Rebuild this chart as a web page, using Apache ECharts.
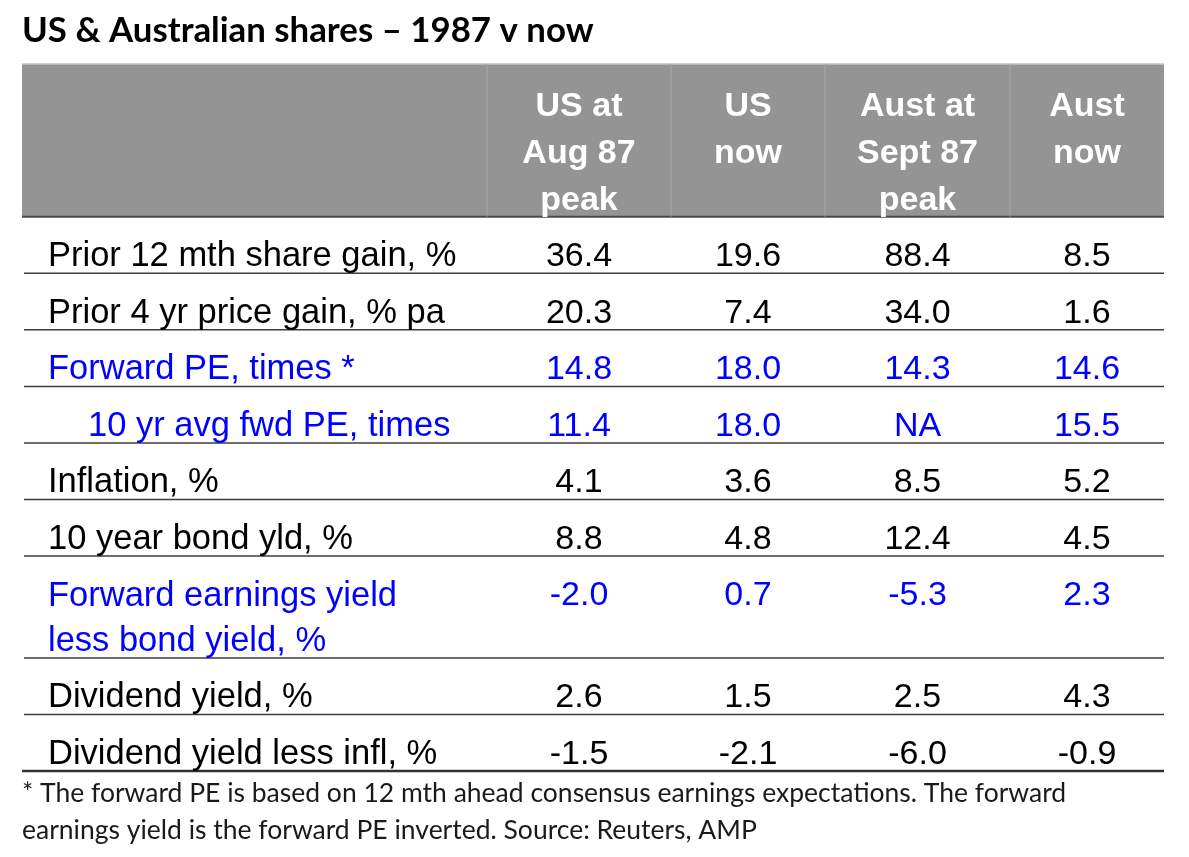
<!DOCTYPE html>
<html lang="en">
<head>
    <meta charset="UTF-8">
    <title>US & Australian shares</title>
    <style>
        html, body { margin: 0; padding: 0; background: #fff; }
        #root { width: 1189px; height: 857px; }
    </style>
</head>
<body>
    <div id="root"></div>
    <script src="https://cdn.jsdelivr.net/npm/echarts@6.0.0/dist/echarts.min.js"></script>
    <script>
        // table content
        var rowLabels = [
            'Prior 12 mth share gain, %',
            'Prior 4 yr price gain, % pa',
            'Forward PE, times *',
            '10 yr avg fwd PE, times',
            'Inflation, %',
            '10 year bond yld, %',
            'Forward earnings yield\nless bond yield, %',
            'Dividend yield, %',
            'Dividend yield less infl, %'
        ];
        var columnHeaders = ['US at\nAug 87\npeak', 'US\nnow', 'Aust at\nSept 87\npeak', 'Aust\nnow'];
        var usAug87 = [36.4, 20.3, 14.8, 11.4, 4.1, 8.8, -2.0, 2.6, -1.5];
        var usNow = [19.6, 7.4, 18.0, 18.0, 3.6, 4.8, 0.7, 1.5, -2.1];
        var austSept87 = [88.4, 34.0, 14.3, null, 8.5, 12.4, -5.3, 2.5, -6.0];
        var austNow = [8.5, 1.6, 14.6, 15.5, 5.2, 4.5, 2.3, 4.3, -0.9];
        var titleText = 'US & Australian shares \u2013 1987 v now';
        var footnote = '* The forward PE is based on 12 mth ahead consensus earnings expectations. The forward\nearnings yield is the forward PE inverted. Source: Reuters, AMP';

        // layout (table units)
        var colWidths = [465, 184, 154, 185, 154];
        var headerHeight = 2.7;
        var rowHeights = [1, 1, 1, 1, 1, 1, 1.8, 1, 1];
        var blueRows = [2, 3, 6];
        var indentRows = [3];

        var columns = [usAug87, usNow, austSept87, austNow];
        var colEdges = [0];
        colWidths.forEach(function (w) { colEdges.push(colEdges[colEdges.length - 1] + w); });
        var rowEdges = [headerHeight];
        rowHeights.forEach(function (h) { rowEdges.push(rowEdges[rowEdges.length - 1] + h); });
        var totalW = colEdges[colEdges.length - 1];
        var totalH = rowEdges[rowEdges.length - 1];

        var bodyFont = '"Liberation Sans", Arial, sans-serif';
        var calFont = 'Lato, "Open Sans", sans-serif';

        function fmt(v) {
            return v === null ? 'NA' : v.toFixed(1);
        }

        function renderHeader(params, api) {
            var c = api.value(0);
            var p0 = api.coord([colEdges[c], 0]);
            var p1 = api.coord([colEdges[c + 1], headerHeight]);
            var children = [{
                type: 'rect',
                shape: { x: p0[0], y: p0[1], width: p1[0] - p0[0], height: p1[1] - p0[1] },
                style: { fill: '#949494' }
            }, {
                type: 'line',
                shape: { x1: p0[0], y1: p0[1], x2: p1[0], y2: p0[1] },
                style: { stroke: '#c4c4c4', lineWidth: 1.5 }
            }, {
                type: 'line',
                shape: { x1: p0[0], y1: p1[1], x2: p1[0], y2: p1[1] },
                style: { stroke: '#4a4a4a', lineWidth: 2 }
            }];
            if (c > 0) {
                children.push({
                    type: 'line',
                    shape: { x1: p0[0], y1: p0[1], x2: p0[0], y2: p1[1] },
                    style: { stroke: '#a6a6a6', lineWidth: 1 }
                });
                children.push({
                    type: 'text',
                    style: {
                        text: columnHeaders[c - 1],
                        x: (p0[0] + p1[0]) / 2,
                        y: p0[1] + 19,
                        align: 'center',
                        verticalAlign: 'top',
                        lineHeight: 47,
                        fill: '#ffffff',
                        fontFamily: bodyFont,
                        fontWeight: 'bold',
                        fontSize: 34
                    }
                });
            }
            return { type: 'group', children: children };
        }

        function renderRow(params, api) {
            var r = api.value(0);
            var p0 = api.coord([0, rowEdges[r]]);
            var p1 = api.coord([totalW, rowEdges[r + 1]]);
            var color = blueRows.indexOf(r) >= 0 ? '#0000ff' : '#000000';
            var last = r === rowLabels.length - 1;
            var children = [{
                type: 'line',
                shape: { x1: p0[0] + (last ? 0 : 2), y1: p1[1], x2: p1[0], y2: p1[1] },
                style: { stroke: last ? '#333333' : '#3c3c3c', lineWidth: last ? 2.5 : 1.5 }
            }, {
                type: 'text',
                style: {
                    text: rowLabels[r],
                    x: p0[0] + (indentRows.indexOf(r) >= 0 ? 66 : 26),
                    y: p0[1] + 17.5,
                    align: 'left',
                    verticalAlign: 'top',
                    lineHeight: 45,
                    fill: color,
                    fontFamily: bodyFont,
                    fontSize: 34.5
                }
            }];
            columns.forEach(function (col, i) {
                var x0 = api.coord([colEdges[i + 1], 0])[0];
                var x1 = api.coord([colEdges[i + 2], 0])[0];
                children.push({
                    type: 'text',
                    style: {
                        text: fmt(col[r]),
                        x: (x0 + x1) / 2,
                        y: p0[1] + 17.5,
                        align: 'center',
                        verticalAlign: 'top',
                        lineHeight: 45,
                        fill: color,
                        fontFamily: bodyFont,
                        fontSize: 34
                    }
                });
            });
            return { type: 'group', children: children };
        }

        var option = {
            animation: false,
            title: [{
                text: titleText,
                left: 22,
                top: 13,
                padding: 0,
                textStyle: { fontFamily: calFont, fontWeight: 'bold', fontSize: 34.8, color: '#000' }
            }, {
                text: footnote,
                left: 22,
                top: 775,
                padding: 0,
                textStyle: { fontFamily: calFont, fontWeight: 'normal', fontSize: 26.5, lineHeight: 37, color: '#1a1a1a' }
            }],
            grid: { left: 22, top: 64, width: totalW, height: 707, containLabel: false },
            xAxis: { type: 'value', min: 0, max: totalW, show: false },
            yAxis: { type: 'value', min: 0, max: totalH, inverse: true, show: false },
            series: [{
                type: 'custom',
                name: 'header',
                renderItem: renderHeader,
                data: colWidths.map(function (w, i) { return [i]; }),
                silent: true
            }, {
                type: 'custom',
                name: 'rows',
                renderItem: renderRow,
                data: rowLabels.map(function (l, i) { return [i]; }),
                silent: true
            }]
        };

        var instance = echarts.init(document.getElementById('root'));
        instance.setOption(option);
    </script>
</body>
</html>
